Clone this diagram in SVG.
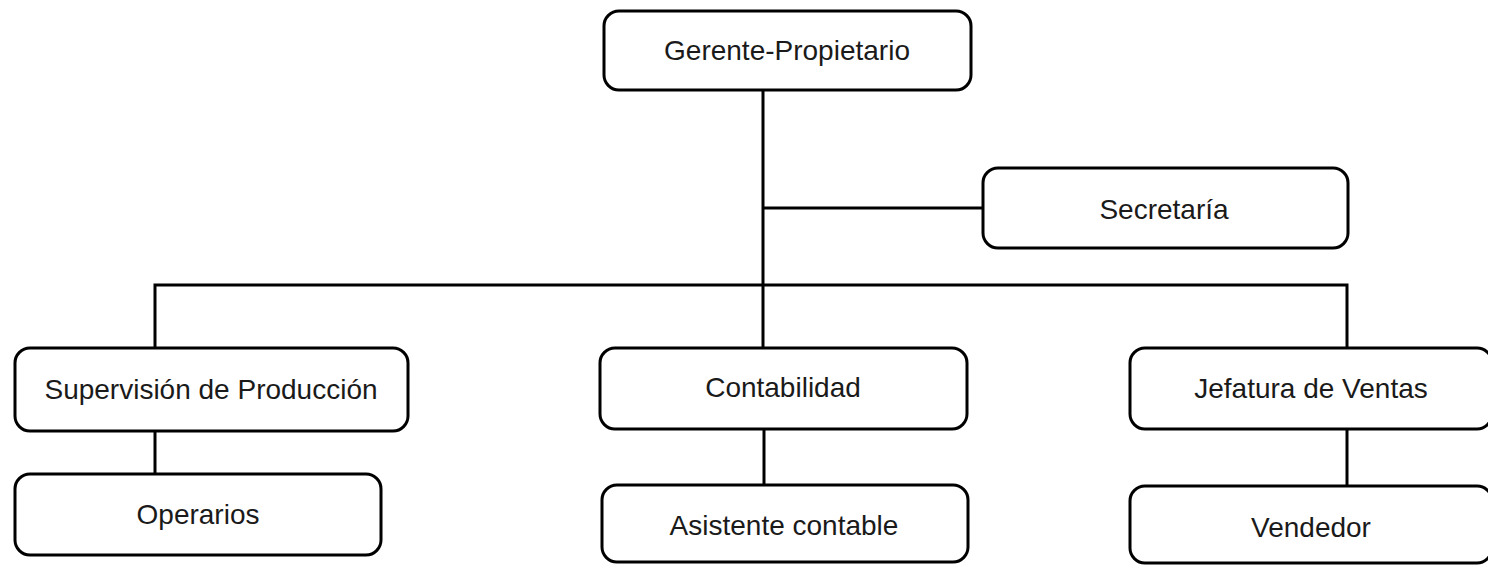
<svg xmlns="http://www.w3.org/2000/svg" width="1488" height="565" viewBox="0 0 1488 565">
  <style>
    .box { fill: #ffffff; stroke: #000000; stroke-width: 3; }
    .lbl { font-family: "Liberation Sans", Arial, sans-serif; font-size: 28px; fill: #1a1a1a; text-anchor: middle; }
    .link { stroke: #000000; stroke-width: 3; fill: none; }
  </style>
  <rect width="1488" height="565" fill="#ffffff"/>

  <g id="connectors">
    <line class="link" x1="763" y1="90" x2="763" y2="348"/>
    <line class="link" x1="763" y1="208" x2="983" y2="208"/>
    <polyline class="link" points="155,348 155,285 1347,285 1347,348"/>
    <line class="link" x1="155" y1="431" x2="155" y2="474"/>
    <line class="link" x1="764" y1="429" x2="764" y2="485"/>
    <line class="link" x1="1347" y1="429" x2="1347" y2="486"/>
  </g>

  <g id="gerente">
    <rect class="box" x="604" y="11" width="367" height="79" rx="15"/>
    <text class="lbl" x="787" y="60">Gerente-Propietario</text>
  </g>

  <g id="secretaria">
    <rect class="box" x="983" y="168" width="365" height="80" rx="15"/>
    <text class="lbl" x="1164" y="219">Secretaría</text>
  </g>

  <g id="supervision">
    <rect class="box" x="15" y="348" width="393" height="83" rx="15"/>
    <text class="lbl" x="211" y="399">Supervisión de Producción</text>
  </g>

  <g id="contabilidad">
    <rect class="box" x="600" y="348" width="367" height="81" rx="15"/>
    <text class="lbl" x="783" y="397">Contabilidad</text>
  </g>

  <g id="jefatura">
    <rect class="box" x="1130" y="348" width="362" height="81" rx="15"/>
    <text class="lbl" x="1311" y="398">Jefatura de Ventas</text>
  </g>

  <g id="operarios">
    <rect class="box" x="15" y="474" width="366" height="81" rx="15"/>
    <text class="lbl" x="198" y="524">Operarios</text>
  </g>

  <g id="asistente">
    <rect class="box" x="602" y="485" width="366" height="77" rx="15"/>
    <text class="lbl" x="784" y="535">Asistente contable</text>
  </g>

  <g id="vendedor">
    <rect class="box" x="1130" y="486" width="362" height="77" rx="15"/>
    <text class="lbl" x="1311" y="537">Vendedor</text>
  </g>
</svg>
